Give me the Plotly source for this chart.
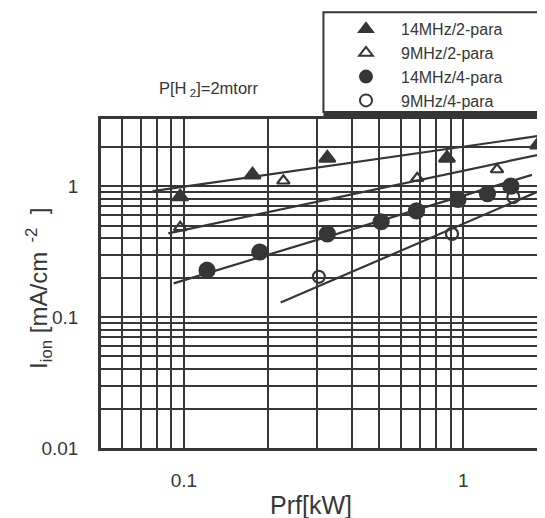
import plotly.graph_objects as go
import math

# ---- data ----
x_14_2 = [0.097, 0.176, 0.326, 0.874, 1.85]
y_14_2 = [0.83, 1.22, 1.64, 1.64, 2.07]

x_9_2 = [0.097, 0.227, 0.684, 1.32]
y_9_2 = [0.484, 1.10, 1.15, 1.34]

x_14_4 = [0.121, 0.187, 0.326, 0.508, 0.680, 0.957, 1.22, 1.48]
y_14_4 = [0.228, 0.314, 0.432, 0.535, 0.647, 0.793, 0.875, 1.0]

x_9_4 = [0.304, 0.911, 1.51]
y_9_4 = [0.203, 0.432, 0.826]

# fitted straight lines (endpoints)
fit_14_2_x = [0.0773, 1.96]
fit_14_2_y = [0.916, 2.46]
fit_9_2_x = [0.0879, 1.96]
fit_9_2_y = [0.436, 1.78]
fit_14_4_x = [0.0919, 1.76]
fit_14_4_y = [0.181, 1.22]
fit_9_4_x = [0.222, 1.96]
fit_9_4_y = [0.129, 0.96]

names = ["14MHz/2-para", "9MHz/2-para", "14MHz/4-para", "9MHz/4-para"]

x_tickvals = [0.06, 0.07, 0.08, 0.09, 0.1, 0.2, 0.3, 0.4, 0.5, 0.6, 0.7, 0.8, 0.9, 1]
x_ticktext = ["", "", "", "", "0.1", "", "", "", "", "", "", "", "", "1"]
y_tickvals = [0.01, 0.02, 0.03, 0.04, 0.05, 0.06, 0.07, 0.08, 0.09,
              0.1, 0.2, 0.3, 0.4, 0.5, 0.6, 0.7, 0.8, 0.9, 1, 2]
y_ticktext = ["0.01", "", "", "", "", "", "", "", "",
              "0.1", "", "", "", "", "", "", "", "", "1", ""]

INK = "#363636"
FONT = "Arial, Liberation Sans, sans-serif"

fig = go.Figure()

for fx, fy in [(fit_14_2_x, fit_14_2_y), (fit_9_2_x, fit_9_2_y),
               (fit_14_4_x, fit_14_4_y), (fit_9_4_x, fit_9_4_y)]:
    fig.add_trace(go.Scatter(x=fx, y=fy, mode="lines", showlegend=False,
                             line=dict(color=INK, width=2.2), hoverinfo="skip"))

series = [
    (x_14_2, y_14_2, "triangle-up", 14),
    (x_9_2, y_9_2, "triangle-up-open", 11),
    (x_14_4, y_14_4, "circle", 15),
    (x_9_4, y_9_4, "circle-open", 12),
]
for (xs, ys, sym, sz), nm in zip(series, names):
    fig.add_trace(go.Scatter(
        x=xs, y=ys, mode="markers", name=nm,
        marker=dict(symbol=sym, size=sz, color=INK,
                    line=dict(color=INK, width=2.2)),
    ))

fig.update_layout(
    width=537, height=510,
    margin=dict(l=93, r=0, t=111, b=70),
    paper_bgcolor="white", plot_bgcolor="white",
    font=dict(family=FONT, color=INK, size=17),
    showlegend=True,
    legend=dict(
        x=0.518, y=1.325, xanchor="left", yanchor="top",
        bgcolor="rgba(0,0,0,0)", borderwidth=0,
        font=dict(size=16, color=INK, family=FONT),
        itemwidth=60, tracegroupgap=0, itemsizing="constant",
    ),
    xaxis=dict(
        type="log", range=[math.log10(0.0505), math.log10(1.96)],
        tickvals=x_tickvals, ticktext=x_ticktext,
        showgrid=True, gridcolor=INK, gridwidth=2,
        showline=True, linecolor=INK, linewidth=2.5, mirror=True,
        ticks="", zeroline=False, ticklabelstandoff=13,
        tickfont=dict(size=19),
    ),
    yaxis=dict(
        type="log", range=[-2, 0.513],
        tickvals=y_tickvals, ticktext=y_ticktext,
        showgrid=True, gridcolor=INK, gridwidth=2,
        showline=True, linecolor=INK, linewidth=2.5, mirror=False,
        ticks="", zeroline=False, ticklabelstandoff=16,
        tickfont=dict(size=19),
    ),
    annotations=[
        dict(text="P[H<sub> 2</sub>]=2mtorr", xref="paper", yref="paper",
             x=0.243, y=1.09, xanchor="center", yanchor="middle",
             showarrow=False, font=dict(size=16.5, color=INK, family=FONT)),
        dict(text="Prf[kW]", xref="paper", yref="paper",
             x=0.472, y=-0.174, xanchor="center", yanchor="middle",
             showarrow=False, font=dict(size=25, color=INK, family=FONT)),
        dict(text="I<sub>ion</sub> [mA/cm<sup>  -2</sup>  ]",
             xref="paper", yref="paper", x=-0.14, y=0.486,
             xanchor="center", yanchor="middle", textangle=-90,
             showarrow=False, font=dict(size=24, color=INK, family=FONT)),
    ],
    shapes=[
        dict(type="rect", xref="paper", yref="paper",
             x0=0.501, x1=1.05, y0=1.021, y1=1.3245,
             line=dict(color=INK, width=2), fillcolor="rgba(0,0,0,0)"),
        dict(type="line", xref="paper", yref="paper",
             x0=0.501, x1=1.05, y0=1.012, y1=1.012,
             line=dict(color=INK, width=4)),
    ],
)

fig.write_html("out.html")
